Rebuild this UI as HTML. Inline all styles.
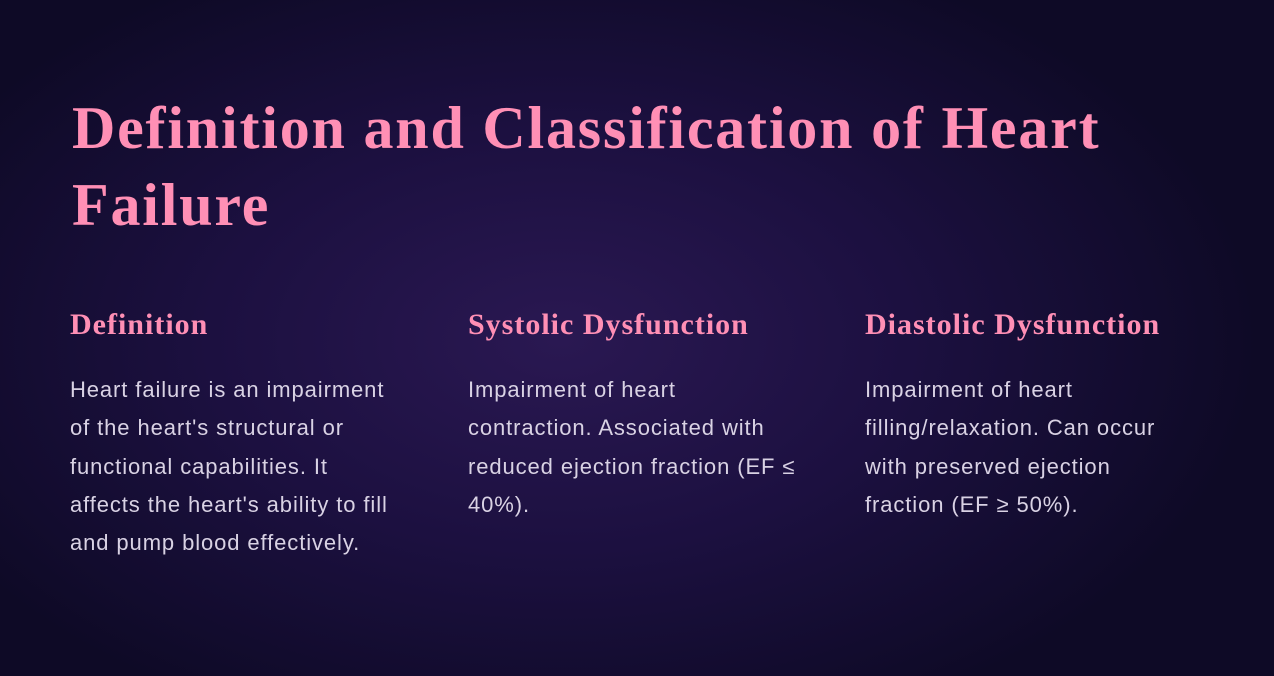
<!DOCTYPE html>
<html><head><meta charset="utf-8"><style>
html,body{margin:0;padding:0}
body{width:1274px;height:676px;overflow:hidden;position:relative;
background:radial-gradient(ellipse 700px 420px at 560px 340px,#2a1852 0%,#1c1040 50%,#0e0a26 100%);}
h1{position:absolute;left:72px;top:90px;margin:0;font-family:"Liberation Serif",serif;font-weight:bold;
font-size:60px;line-height:77px;color:#ff8fb5;letter-spacing:1.8px}
.col{position:absolute;top:303px;width:390px}
.col h2{margin:0;font-family:"Liberation Serif",serif;font-weight:bold;font-size:30px;line-height:44px;color:#ff8fb5;letter-spacing:1px}
.col p{margin:24px 0 0;font-family:"Liberation Sans",sans-serif;font-size:22px;line-height:38.3px;color:#d9d2e4;white-space:nowrap;letter-spacing:0.9px}
</style></head><body>
<h1>Definition and Classification of Heart<br>Failure</h1>
<div class="col" style="left:70px">
<h2>Definition</h2>
<p>Heart failure is an impairment<br>of the heart's structural or<br>functional capabilities. It<br>affects the heart's ability to fill<br>and pump blood effectively.</p>
</div>
<div class="col" style="left:468px">
<h2>Systolic Dysfunction</h2>
<p>Impairment of heart<br>contraction. Associated with<br>reduced ejection fraction (EF ≤<br>40%).</p>
</div>
<div class="col" style="left:865px">
<h2>Diastolic Dysfunction</h2>
<p>Impairment of heart<br>filling/relaxation. Can occur<br>with preserved ejection<br>fraction (EF ≥ 50%).</p>
</div>
</body></html>
